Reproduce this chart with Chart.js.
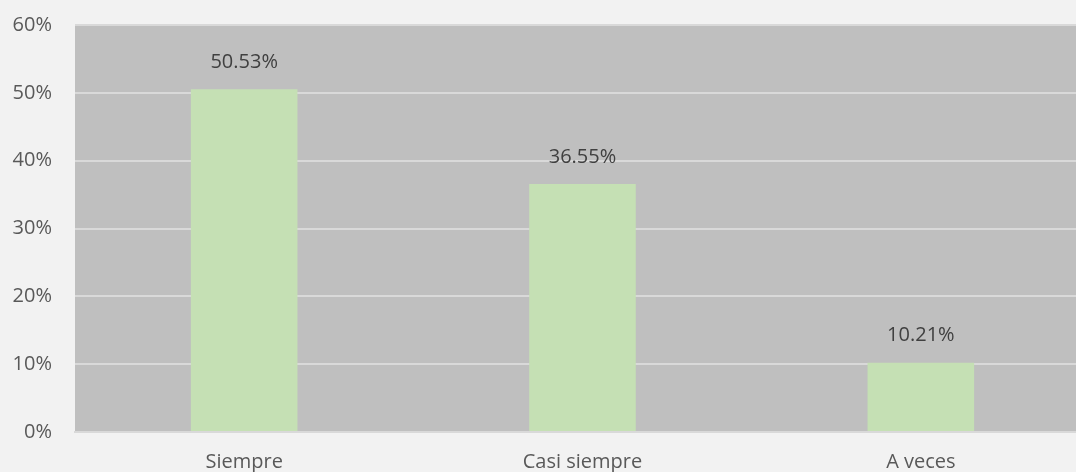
<!DOCTYPE html>
<html>
<head>
<meta charset="utf-8">
<script src="https://cdn.jsdelivr.net/npm/chart.js@4/dist/chart.umd.min.js"></script>
<style>
  html, body { margin: 0; padding: 0; background: #f2f2f2; overflow: hidden; }
  #wrap { width: 1076px; height: 472px; overflow: hidden; }
  #myChart { display: block; margin-top: -10px; }
</style>
</head>
<body>
<div id="wrap"><canvas id="myChart" width="1090" height="482"></canvas></div>
<script>
var categories = ["Siempre", "Casi siempre", "A veces"];
var values = [50.53, 36.55, 10.21];
var yTicks = [0, 10, 20, 30, 40, 50, 60];

var fontFamily = "'Open Sans', 'Liberation Sans', sans-serif";

// grey plot background
var plotBg = {
  id: "plotBg",
  beforeDraw: function (chart) {
    var a = chart.chartArea;
    var ctx = chart.ctx;
    ctx.save();
    ctx.fillStyle = "#bfbfbf";
    ctx.fillRect(a.left, a.top, a.right - a.left, a.bottom - a.top);
    ctx.restore();
  }
};

// value labels above the bars
var barLabels = {
  id: "barLabels",
  afterDatasetsDraw: function (chart) {
    var ctx = chart.ctx;
    var meta = chart.getDatasetMeta(0);
    ctx.save();
    ctx.font = "20px " + fontFamily;
    ctx.fillStyle = "#404040";
    ctx.textAlign = "center";
    ctx.textBaseline = "middle";
    meta.data.forEach(function (bar, i) {
      ctx.fillText(values[i].toFixed(2) + "%", bar.x, bar.y - 27);
    });
    ctx.restore();
  }
};

document.addEventListener("DOMContentLoaded", function () {
  var ctx = document.getElementById("myChart").getContext("2d");
  new Chart(ctx, {
    type: "bar",
    data: {
      labels: categories,
      datasets: [
        {
          data: values,
          backgroundColor: "#c5e0b4",
          borderWidth: 0,
          barPercentage: 0.315,
          categoryPercentage: 1,
        },
      ],
    },
    options: {
      responsive: false,
      animation: false,
      layout: { padding: { top: 2, right: 0, left: 0, bottom: 0 } },
      plugins: {
        legend: { display: false },
        tooltip: { enabled: false },
      },
      scales: {
        x: {
          grid: { display: false, drawTicks: false },
          border: { display: true, color: "#d9d9d9", width: 2 },
          ticks: {
            color: "#595959",
            font: { family: fontFamily, size: 20 },
            padding: 18,
          },
          afterFit: function (scale) { scale.height = 40; },
        },
        y: {
          min: 0,
          max: 60,
          afterBuildTicks: function (scale) {
            scale.ticks = yTicks.map(function (v) { return { value: v }; });
          },
          grid: { color: "#d9d9d9", lineWidth: 2, drawTicks: false },
          border: { display: false },
          ticks: {
            color: "#595959",
            font: { family: fontFamily, size: 20 },
            padding: 23,
            callback: function (v) { return v + "%"; },
          },
          afterFit: function (scale) { scale.width = 75; },
        },
      },
    },
    plugins: [plotBg, barLabels],
  });
});
</script>
</body>
</html>
